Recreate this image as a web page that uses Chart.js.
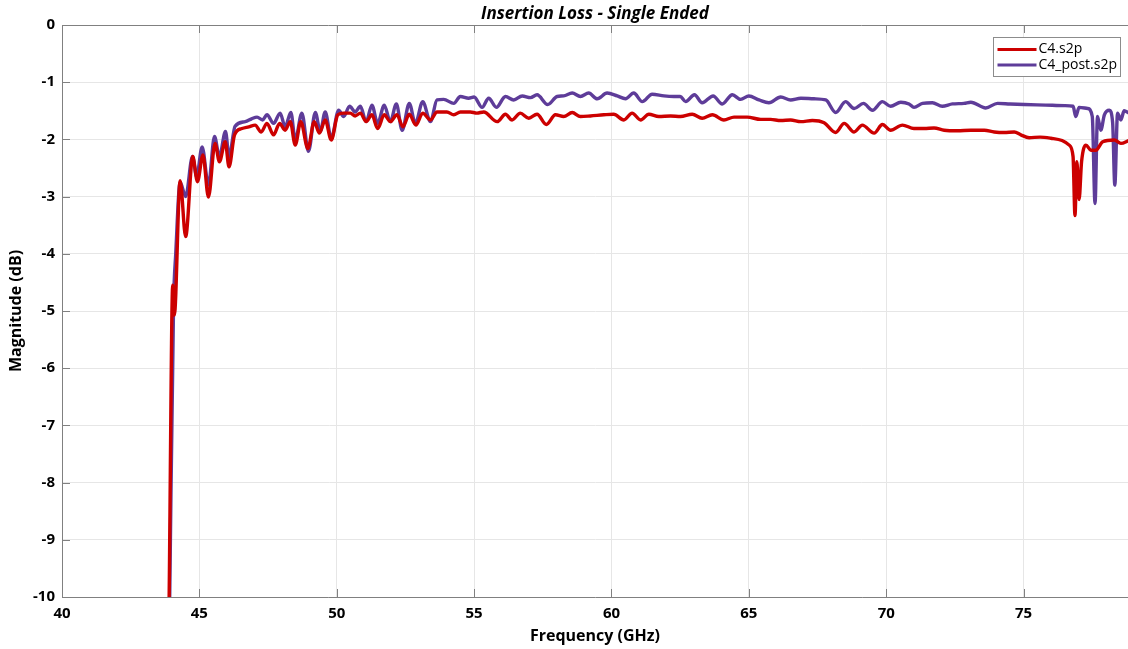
<!DOCTYPE html>
<html>
<head>
<meta charset="utf-8">
<script src="https://cdn.jsdelivr.net/npm/chart.js@4.4.0/dist/chart.umd.min.js"></script>
<style>
  html, body { margin: 0; padding: 0; background: #fff; }
  #wrap { width: 1128px; height: 649px; }
</style>
</head>
<body>
<div id="wrap"><canvas id="ilChart" width="1128" height="649"></canvas></div>
<script>
// series names (legend order)
const seriesNames = ['C4.s2p', 'C4_post.s2p'];
const seriesColors = ['#cc0000', '#5e3c99'];

// C4.s2p  - frequency (GHz) / magnitude (dB)
const c4Freq = [43.9, 44.03, 44.09, 44.3, 44.5, 44.76, 44.93, 45.13, 45.33, 45.57, 45.73, 45.94, 46.08, 46.28, 46.55, 46.8,
  47.03, 47.25, 47.46, 47.7, 47.92, 48.12, 48.31, 48.49, 48.69, 48.95, 49.18, 49.37, 49.58, 49.8, 50.04, 50.25, 50.49,
  50.67, 50.86, 51.07, 51.28, 51.49, 51.73, 51.95, 52.19, 52.41, 52.64, 52.88, 53.13, 53.41, 53.65, 54.01, 54.26, 54.5,
  54.86, 55.1, 55.35, 55.84, 56.14, 56.38, 56.68, 56.99, 57.29, 57.63, 57.96, 58.26, 58.57, 58.87, 59.23, 59.72, 60.08,
  60.45, 60.75, 61.06, 61.36, 61.72, 62.15, 62.51, 62.94, 63.3, 63.67, 64.09, 64.46, 64.94, 65.43, 65.79, 66.16, 66.52,
  66.89, 67.31, 67.74, 68.16, 68.47, 68.83, 69.13, 69.56, 69.86, 70.16, 70.59, 71.01, 71.38, 71.74, 72.11, 72.59, 73.08,
  73.57, 73.93, 74.29, 74.66, 74.9, 75.2, 75.6, 75.99, 76.4, 76.66, 76.8, 76.87, 76.94, 77.02, 77.11, 77.27, 77.45,
  77.63, 77.88, 78.3, 78.54, 78.83];
const c4Mag = [-10, -4.55, -5.07, -2.72, -3.70, -2.30, -2.74, -2.27, -3.01, -2.07, -2.39, -2.04, -2.48, -1.92, -1.81, -1.78,
  -1.75, -1.87, -1.72, -1.92, -1.72, -1.84, -1.69, -2.10, -1.69, -2.16, -1.69, -1.89, -1.66, -2.01, -1.57, -1.54, -1.54,
  -1.59, -1.54, -1.69, -1.57, -1.81, -1.57, -1.69, -1.57, -1.78, -1.56, -1.75, -1.54, -1.66, -1.52, -1.52, -1.57, -1.52,
  -1.52, -1.54, -1.52, -1.69, -1.56, -1.66, -1.54, -1.63, -1.56, -1.74, -1.57, -1.60, -1.53, -1.60, -1.59, -1.57, -1.56,
  -1.66, -1.54, -1.66, -1.56, -1.60, -1.59, -1.60, -1.56, -1.63, -1.57, -1.66, -1.61, -1.61, -1.65, -1.65, -1.67, -1.66,
  -1.69, -1.67, -1.71, -1.88, -1.72, -1.87, -1.75, -1.89, -1.74, -1.84, -1.75, -1.81, -1.81, -1.80, -1.84, -1.85, -1.84,
  -1.84, -1.87, -1.88, -1.87, -1.92, -1.97, -1.96, -1.98, -2.02, -2.10, -2.30, -3.33, -2.39, -3.05, -2.39, -2.10, -2.19,
  -2.19, -2.04, -2.01, -2.07, -2.02];

// C4_post.s2p
const postFreq = [43.92, 44.06, 44.14, 44.3, 44.5, 44.75, 44.9, 45.1, 45.33, 45.55, 45.73, 45.95, 46.08, 46.3, 46.67, 46.9,
  47.1, 47.3, 47.46, 47.7, 47.94, 48.12, 48.33, 48.49, 48.73, 48.97, 49.22, 49.4, 49.58, 49.8, 50.07, 50.25, 50.47, 50.67,
  50.86, 51.07, 51.28, 51.49, 51.73, 51.95, 52.17, 52.38, 52.64, 52.86, 53.13, 53.41, 53.65, 53.89, 54.26, 54.5, 54.8,
  55.0, 55.29, 55.53, 55.81, 56.14, 56.44, 56.75, 57.05, 57.29, 57.68, 58.02, 58.26, 58.57, 58.87, 59.17, 59.48, 59.84,
  60.21, 60.51, 60.81, 61.12, 61.48, 61.91, 62.27, 62.5, 62.7, 63.02, 63.3, 63.7, 64.03, 64.4, 64.7, 65.0, 65.37, 65.73,
  66.16, 66.52, 66.89, 67.37, 67.8, 68.16, 68.52, 68.83, 69.17, 69.5, 69.86, 70.16, 70.53, 70.83, 71.01, 71.32, 71.68,
  72.04, 72.41, 72.83, 73.08, 73.62, 74.05, 74.5, 75.02, 75.8, 76.5, 76.8, 76.9, 77.02, 77.33, 77.5, 77.6, 77.69, 77.81,
  77.94, 78.12, 78.24, 78.32, 78.42, 78.54, 78.66, 78.83];
const postMag = [-10, -4.9, -4.0, -2.75, -3.0, -2.3, -2.65, -2.13, -2.8, -1.95, -2.3, -1.86, -2.3, -1.77, -1.69, -1.64,
  -1.61, -1.66, -1.57, -1.72, -1.54, -1.78, -1.53, -2.01, -1.54, -2.21, -1.53, -1.86, -1.52, -1.98, -1.49, -1.60, -1.42, -1.52,
  -1.42, -1.69, -1.40, -1.72, -1.40, -1.69, -1.38, -1.84, -1.37, -1.72, -1.34, -1.69, -1.31, -1.30, -1.37, -1.25, -1.28,
  -1.26, -1.44, -1.28, -1.44, -1.25, -1.31, -1.24, -1.27, -1.22, -1.39, -1.25, -1.24, -1.19, -1.25, -1.19, -1.29, -1.19,
  -1.24, -1.29, -1.19, -1.34, -1.21, -1.24, -1.25, -1.25, -1.34, -1.22, -1.36, -1.24, -1.38, -1.22, -1.30, -1.24, -1.31, -1.36,
  -1.26, -1.31, -1.28, -1.29, -1.31, -1.53, -1.34, -1.46, -1.37, -1.49, -1.34, -1.42, -1.35, -1.38, -1.44, -1.37, -1.36,
  -1.42, -1.38, -1.37, -1.35, -1.45, -1.37, -1.38, -1.39, -1.40, -1.41, -1.42, -1.60, -1.44, -1.46, -1.60, -3.12, -1.60, -1.84,
  -1.57, -1.49, -1.70, -2.80, -1.54, -1.66, -1.50, -1.54];

// tick labels
const xTickValues = [40, 45, 50, 55, 60, 65, 70, 75];
const yTickValues = [0, -1, -2, -3, -4, -5, -6, -7, -8, -9, -10];

const toPoints = (xs, ys) => xs.map((x, i) => ({ x: x, y: ys[i] }));

// border on top, inward tick marks and the boxed legend
const framePlugin = {
    id: 'framePlugin',
    afterDraw(chart) {
        const { ctx, chartArea: a, scales } = chart;
        ctx.save();
        ctx.strokeStyle = '#808080';
        ctx.lineWidth = 1;
        ctx.beginPath();
        ctx.moveTo(a.left, a.top + 0.5);
        ctx.lineTo(a.right, a.top + 0.5);
        ctx.stroke();

        // inward ticks
        ctx.beginPath();
        xTickValues.forEach(v => {
            const px = Math.round(scales.x.getPixelForValue(v)) + 0.5;
            ctx.moveTo(px, a.bottom); ctx.lineTo(px, a.bottom - 8);
            ctx.moveTo(px, a.top); ctx.lineTo(px, a.top + 8);
        });
        yTickValues.forEach(v => {
            const py = Math.round(scales.y.getPixelForValue(v)) + 0.5;
            ctx.moveTo(a.left, py); ctx.lineTo(a.left + 8, py);
        });
        ctx.stroke();

        // legend
        const bw = 127, bh = 39;
        const bx = Math.round(a.right - 135) + 0.5, by = Math.round(a.top + 12) + 0.5;
        ctx.fillStyle = '#fff';
        ctx.fillRect(bx, by, bw, bh);
        ctx.strokeStyle = '#8c8c8c';
        ctx.strokeRect(bx, by, bw, bh);
        ctx.font = '14px "Open Sans"';
        ctx.textBaseline = 'middle';
        ctx.fillStyle = '#000';
        chart.data.datasets.forEach((ds, i) => {
            const ly = by + 12 + i * 15.5;
            ctx.strokeStyle = ds.borderColor;
            ctx.lineWidth = 3;
            ctx.beginPath();
            ctx.moveTo(bx + 4, ly);
            ctx.lineTo(bx + 43, ly);
            ctx.stroke();
            ctx.fillText(ds.label, bx + 45, ly);
        });
        ctx.restore();
    }
};

const tickFont = { family: 'Open Sans', size: 15, weight: 'bold' };
const axisTitleFont = { family: 'Open Sans', size: 16, weight: 'bold' };

new Chart(document.getElementById('ilChart'), {
    type: 'line',
    data: {
        datasets: [
            { label: seriesNames[0], data: toPoints(c4Freq, c4Mag), borderColor: seriesColors[0] },
            { label: seriesNames[1], data: toPoints(postFreq, postMag), borderColor: seriesColors[1] }
        ]
    },
    options: {
        responsive: false,
        animation: false,
        devicePixelRatio: 1,
        layout: { padding: 0 },
        elements: {
            point: { radius: 0 },
            line: { borderWidth: 3.4, cubicInterpolationMode: 'monotone', fill: false }
        },
        plugins: {
            legend: { display: false },
            tooltip: { enabled: false },
            title: {
                display: true,
                fullSize: false,
                text: 'Insertion Loss - Single Ended',
                color: '#000',
                font: { family: 'Open Sans', size: 17, weight: 'bold', style: 'italic' },
                padding: { top: 4, bottom: 0.6 }
            }
        },
        scales: {
            x: {
                type: 'linear',
                min: 40,
                max: 78.8,
                afterBuildTicks: s => { s.ticks = xTickValues.map(v => ({ value: v })); },
                afterFit: s => { s.height = 52; },
                grid: { color: '#e6e6e6', drawTicks: false },
                border: { color: '#808080' },
                ticks: { padding: 8, color: '#000', font: tickFont, maxRotation: 0, autoSkip: false },
                title: {
                    display: true, text: 'Frequency (GHz)', color: '#000',
                    font: axisTitleFont, padding: { top: 0, bottom: 3 }
                }
            },
            y: {
                type: 'linear',
                min: -10,
                max: 0,
                afterBuildTicks: s => { s.ticks = yTickValues.map(v => ({ value: v })); },
                afterFit: s => { s.width = 62; },
                grid: { color: '#e6e6e6', drawTicks: false },
                border: { color: '#808080' },
                ticks: { padding: 7, color: '#000', font: tickFont, autoSkip: false },
                title: {
                    display: true, text: 'Magnitude (dB)', color: '#000',
                    font: axisTitleFont, padding: { top: 7, bottom: 0 }
                }
            }
        }
    },
    plugins: [framePlugin]
});
</script>
</body>
</html>
